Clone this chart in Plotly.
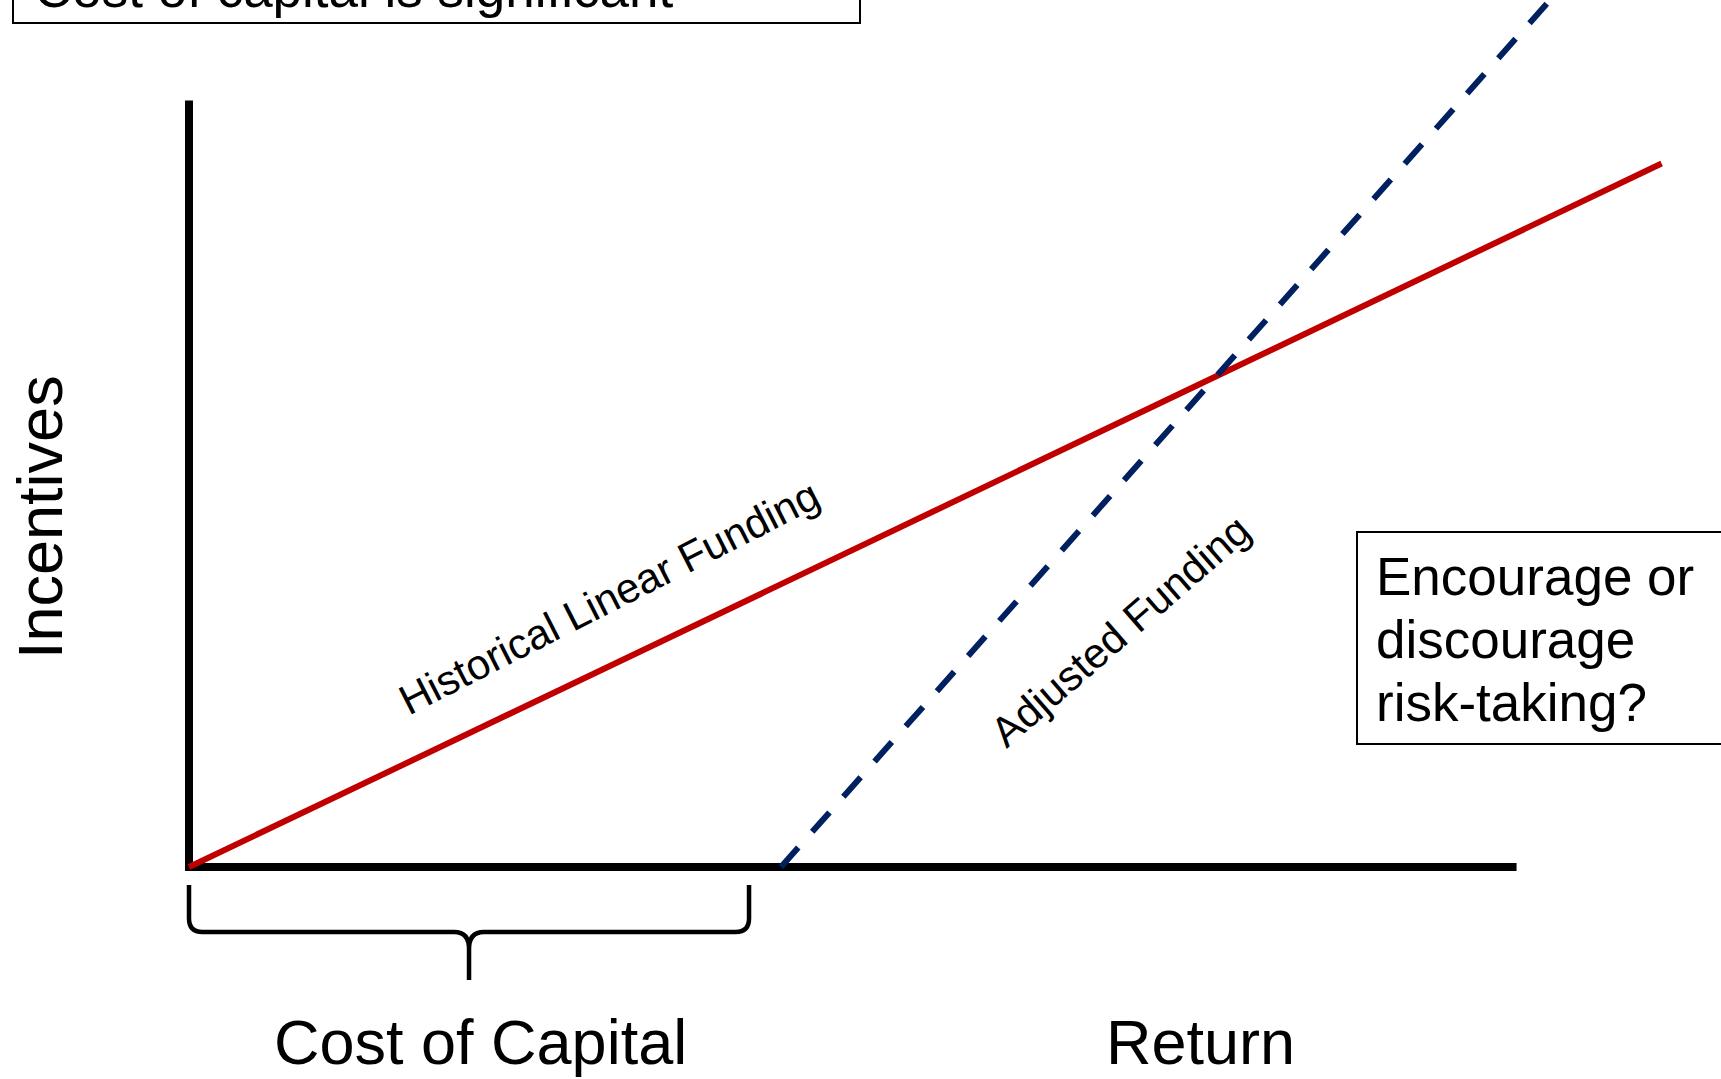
import plotly.graph_objects as go

# ---- figure canvas ----
W, H = 1721, 1079
FONT = "Liberation Sans, Arial, sans-serif"

# ---- conceptual values (return on x, incentives on y) ----
return_axis = [0.0, 0.0, 8.97]          # vertical axis top -> origin -> end of return axis
incentive_axis = [5.42, 0.0, 0.0]
cost_of_capital = 4.0

hist_returns = [0.0, 9.95]              # historical linear funding
hist_incentives = [0.0, 4.975]

adj_returns = [4.0, 9.3]                # adjusted funding, starts at the cost of capital
adj_incentives = [0.0, 6.254]

# axis ranges chosen so that one return unit ~148 px and one incentive unit ~141 px
x_range = [-1.27703, 10.35135]
y_range = [-1.49929, 6.13154]


def px(p):
    return p / W


def py(p):
    return 1 - p / H


fig = go.Figure()

# axes drawn as one black polyline
fig.add_trace(go.Scatter(
    x=return_axis, y=incentive_axis, mode="lines",
    line=dict(color="#000000", width=8), hoverinfo="skip",
))

fig.add_trace(go.Scatter(
    x=hist_returns, y=hist_incentives, mode="lines",
    line=dict(color="#C00000", width=6), hoverinfo="skip",
))

fig.add_trace(go.Scatter(
    x=adj_returns, y=adj_incentives, mode="lines",
    line=dict(color="#002060", width=6, dash="26px,21px"), hoverinfo="skip",
))

# curly brace under the cost-of-capital span
b0, b1 = 0.0, cost_of_capital * 0.946
bm = (b0 + b1) / 2
yt, yc, yb = -0.127, -0.46, -0.80
brace = (
    f"M {b0},{yt} L {b0},{yc + 0.095} Q {b0},{yc} {b0 + 0.09},{yc} "
    f"L {bm - 0.10},{yc} Q {bm},{yc} {bm},{yc - 0.12} L {bm},{yb} "
    f"M {bm},{yc - 0.12} Q {bm},{yc} {bm + 0.10},{yc} "
    f"L {b1 - 0.09},{yc} Q {b1},{yc} {b1},{yc + 0.095} L {b1},{yt}"
)

shapes = [
    dict(type="path", path=brace, xref="x", yref="y",
         line=dict(color="#000000", width=4.5)),
    # framed callouts
    dict(type="rect", xref="paper", yref="paper",
         x0=px(13), x1=px(860), y0=py(23), y1=py(-80),
         line=dict(color="#000000", width=2), fillcolor="rgba(0,0,0,0)"),
    dict(type="rect", xref="paper", yref="paper",
         x0=px(1357), x1=px(1800), y0=py(744), y1=py(532),
         line=dict(color="#000000", width=2), fillcolor="rgba(0,0,0,0)"),
]


def label(text, x, y, size, xanchor="center", angle=0, ref="paper"):
    return dict(
        text=text, x=x, y=y, xref=ref, yref=ref, showarrow=False,
        xanchor=xanchor, yanchor="middle", textangle=angle,
        font=dict(family=FONT, size=size, color="#000000"),
    )


annotations = [
    label("Cost of capital is significant", px(32), py(-12), 53, xanchor="left"),
    label("Encourage or", px(1374), py(576), 53, xanchor="left"),
    label("discourage", px(1374), py(639), 53, xanchor="left"),
    label("risk-taking?", px(1374), py(702), 53, xanchor="left"),
    label("Cost of Capital", px(480), py(1042), 63),
    label("Return", px(1200), py(1042), 63),
    label("Incentives", px(40), py(517), 63, angle=-90),
    label("Historical Linear Funding", 2.838, 1.905, 42, angle=-27, ref=None),
    label("Adjusted Funding", 6.297, 1.670, 42, angle=-41, ref=None),
]
# the two line labels sit in data coordinates
for a in annotations[-2:]:
    a["xref"], a["yref"] = "x", "y"

fig.update_layout(
    width=W, height=H,
    margin=dict(l=0, r=0, t=0, b=0),
    paper_bgcolor="#FFFFFF", plot_bgcolor="#FFFFFF",
    showlegend=False,
    xaxis=dict(range=x_range, visible=False, fixedrange=True),
    yaxis=dict(range=y_range, visible=False, fixedrange=True),
    shapes=shapes,
    annotations=annotations,
)

fig.write_html("out.html", config={"displayModeBar": False})
